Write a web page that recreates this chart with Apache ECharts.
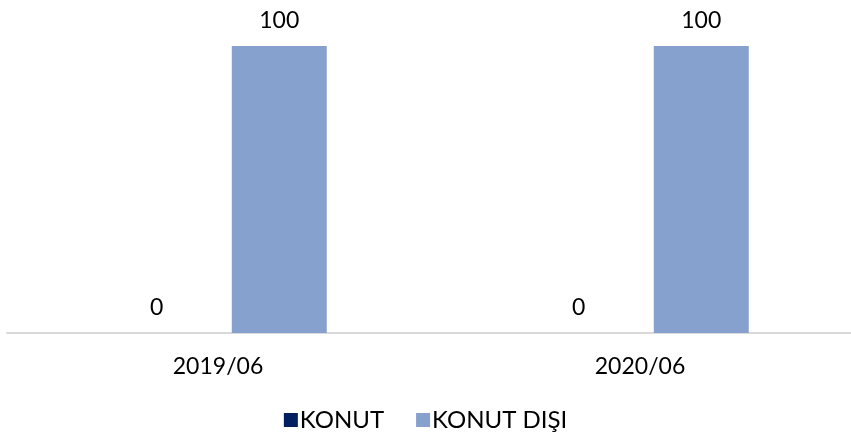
<!DOCTYPE html>
<html>
<head>
<meta charset="utf-8">
<script src="https://cdn.jsdelivr.net/npm/echarts@6/dist/echarts.min.js"></script>
<style>
	html, body { margin: 0; padding: 0; background: #fff; }
	#chart { width: 851px; height: 440px; }
</style>
</head>
<body>
<div id="chart"></div>
<script>
const categories = ['2019/06', '2020/06'];
const konut = [0, 0];
const konutDisi = [100, 100];

const labelFont = { fontFamily: 'Lato', fontSize: 23, color: '#000' };

const getOption = () => {
	return {
		animation: false,
		grid: { left: 7, right: 0, top: 46, bottom: 107 },
		legend: {
			bottom: 3,
			left: 'center',
			itemWidth: 14,
			itemHeight: 14,
			itemGap: 32,
			icon: 'rect',
			textStyle: { fontFamily: 'Lato', fontSize: 24, color: '#000', padding: [0, 0, 0, -3] },
			data: ['KONUT', 'KONUT DIŞI']
		},
		xAxis: {
			type: 'category',
			data: categories,
			axisLine: { lineStyle: { color: '#d9d9d9', width: 2 } },
			axisTick: { show: false },
			axisLabel: Object.assign({ margin: 22 }, labelFont)
		},
		yAxis: {
			type: 'value',
			min: 0,
			max: 100,
			show: false,
			splitLine: { show: false }
		},
		series: [
			{
				name: 'KONUT',
				type: 'bar',
				data: konut,
				barWidth: 95,
				barGap: '29%',
				itemStyle: { color: '#002060' },
				label: Object.assign({ show: true, position: 'top', distance: 14 }, labelFont)
			},
			{
				name: 'KONUT DIŞI',
				type: 'bar',
				data: konutDisi,
				barWidth: 95,
				itemStyle: { color: '#86A1CE' },
				label: Object.assign({ show: true, position: 'top', distance: 14 }, labelFont)
			}
		]
	};
};

const chart = echarts.init(document.getElementById('chart'));
chart.setOption(getOption());
</script>
</body>
</html>
